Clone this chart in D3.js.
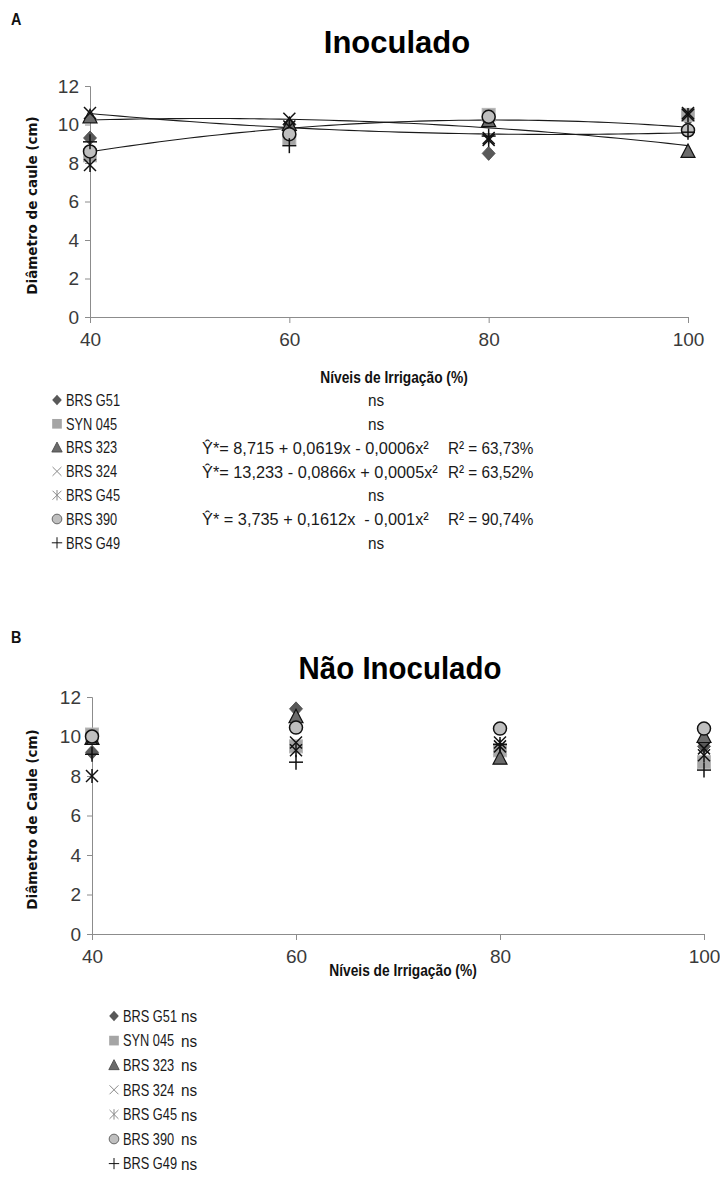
<!DOCTYPE html>
<html>
<head>
<meta charset="utf-8">
<script src="https://cdn.jsdelivr.net/npm/d3@7"></script>
<style>
  body { margin: 0; background: #fff; }
  svg { display: block; }
</style>
</head>
<body>
<div id="chart"></div>
<script>
// ---------------- DATA ----------------
const levels = [40, 60, 80, 100];
const yTicks = [0, 2, 4, 6, 8, 10, 12];
const cultivars = ["BRS G51", "SYN 045", "BRS 323", "BRS 324", "BRS G45", "BRS 390", "BRS G49"];
const markerTypes = ["diamond", "square", "triangle", "x", "asterisk", "circle", "plus"];

// A - Inoculado
const inocG51    = [9.3, 10.0, 8.5, 10.3];
const inocSYN045 = [8.4, 9.3, 10.5, 10.5];
const inoc323    = [10.4, 10.0, 10.2, 8.6];
const inoc324    = [10.6, 10.3, 9.3, 10.6];
const inocG45    = [7.9, 9.9, 9.2, 10.5];
const inoc390    = [8.6, 9.5, 10.4, 9.7];
const inocG49    = [9.1, 8.9, 9.4, 9.6];

// B - Nao inoculado
const naoG51    = [9.2, 11.4, 9.1, 9.5];
const naoSYN045 = [10.1, 9.5, 9.3, 8.7];
const nao323    = [9.9, 11.0, 8.9, 10.0];
const nao324    = [9.9, 9.7, 9.7, 9.4];
const naoG45    = [8.0, 9.3, 9.5, 9.05];
const nao390    = [10.0, 10.45, 10.4, 10.4];
const naoG49    = [9.1, 8.7, 9.6, 8.3];

// fitted quadratics printed in legend A  (a + b x + c x^2)
const trend323 = [8.715, 0.0619, -0.0006];
const trend324 = [13.233, -0.0866, 0.0005];
const trend390 = [3.735, 0.1612, -0.001];

const eqInoc = ["", "", "Ŷ*= 8,715 + 0,0619x - 0,0006x²", "Ŷ*= 13,233 - 0,0866x + 0,0005x²", "", "Ŷ* = 3,735 + 0,1612x  - 0,001x²", ""];
const nsInoc = ["ns", "ns", "", "", "ns", "", "ns"];
const r2Inoc = ["", "", "R² = 63,73%", "R² = 63,52%", "", "R² = 90,74%", ""];
const nsNao  = ["ns", "ns", "ns", "ns", "ns", "ns", "ns"];

// ---------------- SETUP ----------------
const width = 720, height = 1178;
const sans = "'Liberation Sans', Arial, sans-serif";

const svg = d3.select("#chart").append("svg")
  .attr("width", width)
  .attr("height", height);

// draws one marker shape into a <g>
function drawMarker(g, type, s, legend) {
  const k = s / 7;
  if (type === "diamond") {
    g.append("path").attr("d", `M0,${-7*k}L${6.5*k},0L0,${7*k}L${-6.5*k},0Z`)
      .style("fill", "#595959").style("stroke", legend ? "none" : "#4a4a4a").style("stroke-width", 0.8);
  } else if (type === "square") {
    g.append("rect").attr("x", -6.5*k).attr("y", -6.5*k).attr("width", 13*k).attr("height", 13*k)
      .style("fill", "#a5a5a5").style("stroke", legend ? "none" : "#b8b8b8").style("stroke-width", 1);
  } else if (type === "triangle") {
    g.append("path").attr("d", `M0,${-7.5*k}L${7*k},${6*k}L${-7*k},${6*k}Z`)
      .style("fill", "#6b6b6b").style("stroke", legend ? "#444" : "#111").style("stroke-width", legend ? 0.8 : 1.2);
  } else if (type === "circle") {
    g.append("circle").attr("r", 6.5*k)
      .style("fill", "#bfbfbf").style("stroke", legend ? "#666" : "#111").style("stroke-width", legend ? 1 : 1.5);
  } else {
    const col = legend && type !== "plus" ? "#8a8a8a" : "#111";
    const sw = legend ? 1 : 1.5;
    const lines = [];
    if (type === "x" || type === "asterisk") {
      lines.push([-6*k, -6*k, 6*k, 6*k], [-6*k, 6*k, 6*k, -6*k]);
    }
    if (type === "asterisk") lines.push([0, -7*k, 0, 7*k]);
    if (type === "plus") lines.push([-7*k, 0, 7*k, 0], [0, -7.5*k, 0, 7.5*k]);
    lines.forEach(l => {
      g.append("line").attr("x1", l[0]).attr("y1", l[1]).attr("x2", l[2]).attr("y2", l[3])
        .style("stroke", col).style("stroke-width", sw);
    });
  }
}

// text squeezed horizontally to mimic the narrow Calibri face
function narrowText(parent, t, x, y, size, sx, opts = {}) {
  return parent.append("text").text(t)
    .attr("transform", `translate(${x},${y}) scale(${sx},1)`)
    .attr("dy", opts.dy || "0.36em")
    .attr("text-anchor", opts.anchor || "start")
    .attr("xml:space", "preserve")
    .style("white-space", "pre")
    .style("font-family", sans)
    .style("font-size", size + "px")
    .style("font-weight", opts.bold ? "bold" : "normal")
    .style("fill", opts.fill || "#1a1a1a");
}

function drawPanel(opt) {
  const x = d3.scaleLinear().domain([40, 100]).range([opt.x0, opt.x1]);
  const y = d3.scaleLinear().domain([0, 12]).range([opt.y0, opt.y1]);

  // panel letter
  narrowText(svg, opt.letter, 11, opt.letterY, 16, 0.9, { bold: true, fill: "#111" });

  // title
  narrowText(svg, opt.title, opt.titleX, opt.titleY, 31, opt.titleSx, { bold: true, anchor: "middle", fill: "#000" });

  // axes
  const yAxis = svg.append("g")
    .attr("transform", `translate(${opt.x0},0)`)
    .call(d3.axisLeft(y).tickValues(yTicks).tickSize(5).tickPadding(6));
  const xAxis = svg.append("g")
    .attr("transform", `translate(0,${opt.y0})`)
    .call(d3.axisBottom(x).tickValues(levels).tickSize(6).tickPadding(10));
  [yAxis, xAxis].forEach(a => {
    a.select(".domain").style("stroke", "#8c8c8c");
    a.selectAll(".tick line").style("stroke", "#8c8c8c");
    a.selectAll(".tick text")
      .style("font-family", sans).style("font-size", "19px").style("fill", "#3a3a3a");
  });

  // axis titles
  svg.append("text").text(opt.yTitle)
    .attr("transform", `translate(${opt.yTitleX},${(opt.y0 + opt.y1) / 2 + 4}) rotate(-90)`)
    .attr("text-anchor", "middle")
    .style("font-family", "'DejaVu Sans', Verdana, sans-serif")
    .style("font-size", "13.5px").style("font-weight", "bold").style("fill", "#111");

  narrowText(svg, "Níveis de Irrigação (%)", opt.xTitleX, opt.xTitleY, 16, 0.86, { bold: true, anchor: "middle", fill: "#111" });

  // trend lines
  const plot = svg.append("g");
  (opt.trends || []).forEach(c => {
    const pts = d3.range(40, 100.5, 1).map(v => [v, c[0] + c[1] * v + c[2] * v * v]);
    plot.append("path")
      .datum(pts)
      .attr("d", d3.line().x(d => x(d[0])).y(d => y(d[1])))
      .style("fill", "none").style("stroke", "#1a1a1a").style("stroke-width", 1.1);
  });

  // markers
  opt.series.forEach((vals, i) => {
    vals.forEach((v, j) => {
      const g = plot.append("g").attr("transform", `translate(${x(levels[j])},${y(v)})`);
      drawMarker(g, markerTypes[i], 7, false);
    });
  });

  // legend
  const lg = svg.append("g");
  cultivars.forEach((name, i) => {
    const ry = opt.legY + i * opt.legStep;
    const g = lg.append("g").attr("transform", `translate(${opt.legX},${ry})`);
    drawMarker(g, markerTypes[i], 5.2, true);
    narrowText(lg, name, opt.legX + 9, ry, 16, 0.8);
    if (opt.eq && opt.eq[i]) narrowText(lg, opt.eq[i], opt.eqX, ry, 17, 0.96);
    if (opt.ns[i]) narrowText(lg, opt.ns[i], opt.nsX, ry, 17, 0.9);
    if (opt.r2 && opt.r2[i]) narrowText(lg, opt.r2[i], opt.r2X, ry, 17, 0.9);
  });
}

drawPanel({
  letter: "A", letterY: 19,
  title: "Inoculado", titleX: 397, titleY: 42, titleSx: 1.0,
  x0: 90, x1: 688, y0: 317, y1: 86,
  yTitle: "Diâmetro de caule (cm)", yTitleX: 37,
  xTitleX: 394, xTitleY: 377,
  series: [inocG51, inocSYN045, inoc323, inoc324, inocG45, inoc390, inocG49],
  trends: [trend323, trend324, trend390],
  legX: 57, legY: 400, legStep: 23.8,
  eq: eqInoc, eqX: 202, ns: nsInoc, nsX: 368, r2: r2Inoc, r2X: 448
});

drawPanel({
  letter: "B", letterY: 637,
  title: "Não Inoculado", titleX: 400, titleY: 668, titleSx: 0.95,
  x0: 92, x1: 704, y0: 934, y1: 697,
  yTitle: "Diâmetro de Caule (cm)", yTitleX: 37,
  xTitleX: 403, xTitleY: 970,
  series: [naoG51, naoSYN045, nao323, nao324, naoG45, nao390, naoG49],
  trends: [],
  legX: 114, legY: 1016, legStep: 24.6,
  ns: nsNao, nsX: 181
});
</script>
</body>
</html>
